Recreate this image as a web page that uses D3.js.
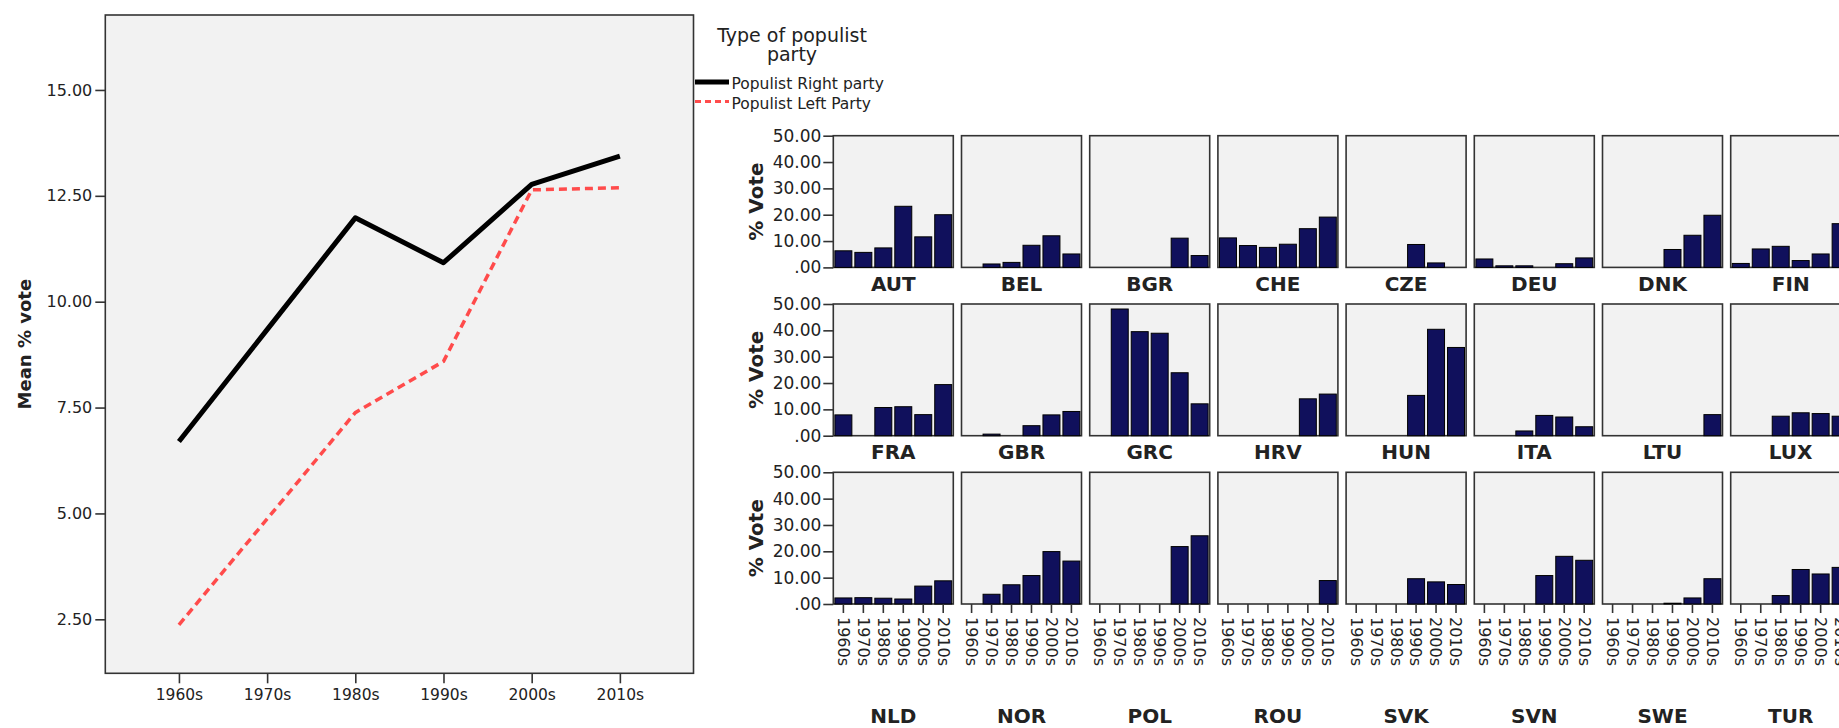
<!DOCTYPE html>
<html lang="en">
<head>
	<meta charset="utf-8">
	<title>Populist vote share</title>
	<style>
		body { margin: 0; background: #fff; }
		svg text { font-family: "DejaVu Sans", sans-serif; fill: #222; }
		.axis .domain { display: none; }
		.axis line { stroke: #333; stroke-width: 1.6px; }
	</style>
	<script type="text/javascript" src="https://d3js.org/d3.v7.min.js"></script>
</head>
<body>
	<script type="text/javascript">
            // decades on the x axis
            var decades = ["1960s", "1970s", "1980s", "1990s", "2000s", "2010s"];

            // mean % vote, left panel
            var rightParty = [6.70, 9.34, 11.98, 10.92, 12.77, 13.44];
            var leftParty = [2.37, 4.87, 7.38, 8.59, 12.64, 12.69];
            var mainTicks = [2.5, 5, 7.5, 10, 12.5, 15];
            var seriesNames = ["Populist Right party", "Populist Left Party"];

            // % vote per country, one row per country, one value per decade (null = no bar)
            var countries = ["AUT", "BEL", "BGR", "CHE", "CZE", "DEU", "DNK", "FIN",
                             "FRA", "GBR", "GRC", "HRV", "HUN", "ITA", "LTU", "LUX",
                             "NLD", "NOR", "POL", "ROU", "SVK", "SVN", "SWE", "TUR"];
            var countryVotes = [
                [6.3, 5.7, 7.4, 23.2, 11.6, 20.0],
                [null, 1.3, 1.9, 8.4, 12.0, 5.1],
                [null, null, null, null, 11.1, 4.5],
                [11.2, 8.3, 7.6, 8.8, 14.7, 19.1],
                [null, null, null, 8.7, 1.7, null],
                [3.2, 0.6, 0.6, null, 1.4, 3.6],
                [null, null, null, 6.8, 12.2, 19.8],
                [1.5, 7.0, 8.0, 2.6, 5.1, 16.6],
                [7.9, null, 10.7, 11.0, 8.0, 19.4],
                [null, 0.6, null, 3.8, 7.9, 9.2],
                [null, 48.1, 39.5, 38.9, 23.9, 12.1],
                [null, null, null, null, 14.0, 15.8],
                [null, null, null, 15.3, 40.4, 33.5],
                [null, null, 1.8, 7.7, 7.1, 3.4],
                [null, null, null, null, null, 8.0],
                [null, null, 7.4, 8.7, 8.4, 7.4],
                [2.3, 2.4, 2.2, 1.9, 6.8, 8.8],
                [null, 3.7, 7.3, 10.8, 19.9, 16.3],
                [null, null, null, null, 21.8, 25.9],
                [null, null, null, null, null, 8.9],
                [null, null, null, 9.6, 8.4, 7.4],
                [null, null, null, 10.8, 18.1, 16.6],
                [null, null, null, 0.3, 2.3, 9.6],
                [null, null, 3.2, 13.1, 11.4, 13.9]
            ];
            var panelTicks = [0, 10, 20, 30, 40, 50];

            var w = 1839;
            var h = 728;
            var svg = d3.select("body")
                .append("svg")
                .attr("width", w)
                .attr("height", h);

            // ---- left: line chart ----
            var frame = { left: 105.3, right: 693.5, top: 15, bottom: 673.3 };
            var xMain = d3.scalePoint()
                .domain(decades)
                .range([frame.left, frame.right])
                .padding(0.835);
            var yMain = d3.scaleLinear()
                .domain([1.225, 16.77])
                .range([frame.bottom, frame.top]);

            svg.append("rect")
                .attr("x", frame.left)
                .attr("y", frame.top)
                .attr("width", frame.right - frame.left)
                .attr("height", frame.bottom - frame.top)
                .attr("fill", "#f2f2f2")
                .attr("stroke", "#333")
                .attr("stroke-width", 1.6);

            svg.append("g")
                .attr("class", "axis")
                .attr("transform", "translate(" + frame.left + ",0)")
                .call(d3.axisLeft(yMain).tickValues(mainTicks).tickSize(10).tickPadding(3)
                    .tickFormat(d3.format(".2f")))
                .selectAll("text")
                .attr("font-size", "16px");

            svg.append("g")
                .attr("class", "axis")
                .attr("transform", "translate(0," + frame.bottom + ")")
                .call(d3.axisBottom(xMain).tickSize(10).tickPadding(6))
                .selectAll("text")
                .attr("font-size", "15.5px");

            var line = d3.line()
                .x((d, i) => xMain(decades[i]))
                .y(d => yMain(d));

            svg.append("path")
                .attr("d", line(leftParty))
                .attr("fill", "none")
                .attr("stroke", "#ff4b4b")
                .attr("stroke-width", 3.5)
                .attr("stroke-dasharray", "8,5");
            svg.append("path")
                .attr("d", line(rightParty))
                .attr("fill", "none")
                .attr("stroke", "#000")
                .attr("stroke-width", 5)
                .attr("stroke-linejoin", "round");

            svg.append("text")
                .text("Mean % vote")
                .attr("transform", "translate(31," + (frame.top + frame.bottom) / 2 + ") rotate(-90)")
                .attr("text-anchor", "middle")
                .attr("font-size", "18px")
                .attr("font-weight", "bold");

            // legend
            var legend = svg.append("g");
            legend.append("text")
                .text("Type of populist")
                .attr("x", 792).attr("y", 42)
                .attr("text-anchor", "middle")
                .attr("font-size", "19px");
            legend.append("text")
                .text("party")
                .attr("x", 792).attr("y", 61)
                .attr("text-anchor", "middle")
                .attr("font-size", "19px");
            legend.selectAll("line")
                .data(seriesNames)
                .enter()
                .append("line")
                .attr("x1", 695).attr("x2", 729)
                .attr("y1", (d, i) => 82 + i * 19.5)
                .attr("y2", (d, i) => 82 + i * 19.5)
                .attr("stroke", (d, i) => i === 0 ? "#000" : "#ff4b4b")
                .attr("stroke-width", (d, i) => i === 0 ? 5 : 3)
                .attr("stroke-dasharray", (d, i) => i === 0 ? null : "6,4");
            legend.selectAll("text.entry")
                .data(seriesNames)
                .enter()
                .append("text")
                .attr("class", "entry")
                .text(d => d)
                .attr("x", 731.5)
                .attr("y", (d, i) => 89 + i * 20)
                .attr("font-size", "15.5px");

            // ---- right: small multiples ----
            var colLeft = 833.3, colPitch = 128.2, panelW = 120;
            var rowTop = 135.7, rowPitch = 168.3, panelH = 131.7;
            var nCols = 8;

            var xBand = d3.scaleBand()
                .domain(decades)
                .range([0, panelW])
                .paddingInner(0.15)
                .paddingOuter(0.08);
            var yPanel = d3.scaleLinear()
                .domain([0, 50])
                .range([panelH, 0]);

            var panels = svg.selectAll("g.panel")
                .data(countries)
                .enter()
                .append("g")
                .attr("class", "panel")
                .attr("transform", (d, i) => "translate(" + (colLeft + (i % nCols) * colPitch) + "," +
                    (rowTop + Math.floor(i / nCols) * rowPitch) + ")");

            panels.append("rect")
                .attr("width", panelW)
                .attr("height", panelH)
                .attr("fill", "#f2f2f2")
                .attr("stroke", "#333")
                .attr("stroke-width", 1.6);

            panels.selectAll("rect.bar")
                .data((d, i) => countryVotes[i].map((v, j) => ({ decade: decades[j], value: v }))
                    .filter(b => b.value !== null))
                .enter()
                .append("rect")
                .attr("class", "bar")
                .attr("x", b => xBand(b.decade))
                .attr("y", b => yPanel(b.value))
                .attr("width", xBand.bandwidth())
                .attr("height", b => panelH - yPanel(b.value))
                .attr("fill", "#10105c")
                .attr("stroke", "#000")
                .attr("stroke-width", 1);

            // country names
            panels.append("text")
                .text(d => d)
                .attr("x", panelW / 2)
                .attr("y", (d, i) => Math.floor(i / nCols) === 2 ? 723 - (rowTop + 2 * rowPitch) : panelH + 23.5)
                .attr("text-anchor", "middle")
                .attr("font-size", "20px")
                .attr("font-weight", "bold");

            // y axes on the first column
            panels.filter((d, i) => i % nCols === 0)
                .each(function () {
                    var g = d3.select(this);
                    g.append("g")
                        .attr("class", "axis")
                        .call(d3.axisLeft(yPanel).tickValues(panelTicks).tickSize(10).tickPadding(2)
                            .tickFormat(v => v === 0 ? ".00" : d3.format(".2f")(v)))
                        .selectAll("text")
                        .attr("font-size", "17px");
                    g.append("text")
                        .text("% Vote")
                        .attr("transform", "translate(-70," + panelH / 2 + ") rotate(-90)")
                        .attr("text-anchor", "middle")
                        .attr("font-size", "20px")
                        .attr("font-weight", "bold");
                });

            // x axes on the bottom row
            panels.filter((d, i) => Math.floor(i / nCols) === 2)
                .append("g")
                .attr("class", "axis")
                .attr("transform", "translate(0," + panelH + ")")
                .call(d3.axisBottom(xBand).tickSize(9))
                .selectAll("text")
                .attr("font-size", "16px")
                .attr("transform", "rotate(90)")
                .attr("x", 13)
                .attr("y", 0)
                .attr("dy", "0.35em")
                .style("text-anchor", "start");
        </script>
</body>
</html>
